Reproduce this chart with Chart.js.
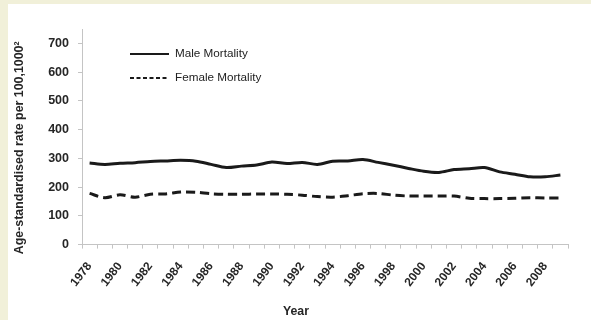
<!DOCTYPE html>
<html>
<head>
<meta charset="utf-8">
<script src="https://cdn.jsdelivr.net/npm/chart.js@4.4.1/dist/chart.umd.min.js"></script>
<style>
  html, body { margin: 0; padding: 0; }
  body { width: 591px; height: 320px; background: #f1f0d9; overflow: hidden; }
  #frame { position: absolute; left: 8px; top: 4px; width: 583px; height: 316px; background: #ffffff; }
  canvas { display: block; }
</style>
</head>
<body>
<div id="frame"><canvas id="c" width="583" height="316"></canvas></div>
<script>
// Age-standardised mortality rates by year
const years = ['1978','1979','1980','1981','1982','1983','1984','1985','1986','1987','1988',
  '1989','1990','1991','1992','1993','1994','1995','1996','1997','1998','1999','2000','2001',
  '2002','2003','2004','2005','2006','2007','2008','2009'];
const maleMortality = [284,279,283,285,289,291,293,290,279,268,273,277,287,282,286,279,290,
  291,296,286,276,265,255,251,261,264,268,253,245,236,236,242];
const femaleMortality = [178,163,173,165,175,176,183,182,177,175,175,176,176,175,172,167,165,
  170,177,178,172,169,169,169,169,161,160,160,161,163,162,162];
const yTicks = [0,100,200,300,400,500,600,700];
const seriesNames = ['Male Mortality', 'Female Mortality'];
const yTitle = 'Age-standardised rate per 100,1000²';
const xTitle = 'Year';

const axisGrey = '#c4c4c4';
const inkDark = '#262626';
const fontFamily = '"Liberation Sans", Arial, sans-serif';

// Legend drawn inside the plot, upper left, as short line samples
const insetLegend = {
  id: 'insetLegend',
  afterDraw(chart) {
    const ctx = chart.ctx;
    const area = chart.chartArea;
    const x0 = area.left + 48;
    const y0 = area.top + 25;
    ctx.save();
    chart.data.datasets.forEach((ds, i) => {
      const y = y0 + i * 24;
      ctx.beginPath();
      ctx.setLineDash(ds.borderDash && ds.borderDash.length ? [4, 2.5] : []);
      ctx.lineWidth = 2;
      ctx.strokeStyle = '#1a1a1a';
      ctx.moveTo(x0, y);
      ctx.lineTo(x0 + 39, y);
      ctx.stroke();
      ctx.setLineDash([]);
      ctx.fillStyle = '#222222';
      ctx.font = '11.7px ' + fontFamily;
      ctx.textBaseline = 'middle';
      ctx.textAlign = 'left';
      ctx.fillText(ds.label, x0 + 45, y);
    });
    ctx.restore();
  }
};

// Axis titles: the vertical one a little below the plot middle,
// the horizontal one centred on the whole figure
const axisTitles = {
  id: 'axisTitles',
  afterDraw(chart) {
    const ctx = chart.ctx;
    const area = chart.chartArea;
    ctx.save();
    ctx.fillStyle = inkDark;
    ctx.textAlign = 'center';
    ctx.textBaseline = 'middle';

    ctx.save();
    ctx.translate(12, (area.top + area.bottom) / 2 + 11);
    ctx.rotate(-Math.PI / 2);
    ctx.font = 'bold 12.4px ' + fontFamily;
    ctx.fillText(yTitle, 0, 0);
    ctx.restore();

    ctx.font = 'bold 12.3px ' + fontFamily;
    ctx.fillText(xTitle, chart.width / 2 - 3.5, chart.height - 8.2);
    ctx.restore();
  }
};

new Chart(document.getElementById('c'), {
  type: 'line',
  data: {
    labels: years,
    datasets: [
      {
        label: seriesNames[0],
        data: maleMortality,
        borderColor: '#1a1a1a',
        borderWidth: 3,
        pointRadius: 0,
        tension: 0.3,
        fill: false
      },
      {
        label: seriesNames[1],
        data: femaleMortality,
        borderColor: '#1a1a1a',
        borderWidth: 3,
        borderDash: [9, 5],
        pointRadius: 0,
        tension: 0.3,
        fill: false
      }
    ]
  },
  options: {
    responsive: false,
    animation: false,
    devicePixelRatio: 1,
    layout: { padding: { left: 0, top: 25, right: 23, bottom: 15.4 } },
    plugins: {
      legend: { display: false },
      tooltip: { enabled: false },
      title: { display: false }
    },
    scales: {
      x: {
        type: 'category',
        offset: true,
        grid: {
          offset: true,
          drawOnChartArea: false,
          drawTicks: true,
          tickLength: 4,
          color: axisGrey
        },
        border: { color: axisGrey, width: 1 },
        ticks: {
          autoSkip: false,
          minRotation: 52,
          maxRotation: 52,
          padding: 11,
          color: inkDark,
          font: { family: fontFamily, size: 12, weight: 'bold' },
          callback(value, index) { return index % 2 === 0 ? years[index] : ''; }
        },
        afterFit(scale) { scale.height = 60; }
      },
      y: {
        min: 0,
        max: 750,
        grid: {
          drawOnChartArea: false,
          drawTicks: true,
          tickLength: 4,
          color: axisGrey
        },
        border: { color: axisGrey, width: 1 },
        ticks: {
          stepSize: 100,
          padding: 9,
          color: inkDark,
          font: { family: fontFamily, size: 12.5, weight: 'bold' }
        },
        afterBuildTicks(scale) {
          scale.ticks = yTicks.map(v => ({ value: v }));
        },
        title: { display: false },
        afterFit(scale) { scale.width = 74; }
      }
    }
  },
  plugins: [insetLegend, axisTitles]
});
</script>
</body>
</html>
